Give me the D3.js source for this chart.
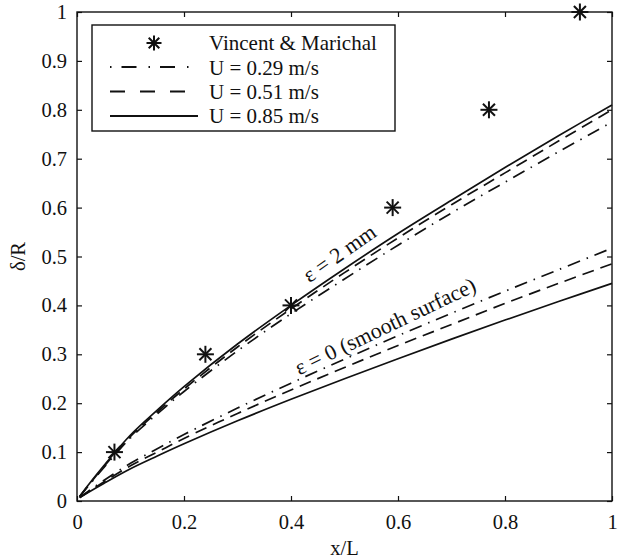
<!DOCTYPE html>
<html>
<head>
<meta charset="utf-8">
<script src="https://cdn.jsdelivr.net/npm/d3@7"></script>
<style>
  body { margin: 0; background: #fff; }
  text { font-family: "Liberation Serif", "Times New Roman", serif; fill: #111; }
</style>
</head>
<body>
<svg id="chart" width="622" height="560"></svg>
<script>
// x/L sample positions
var xs = [0.005, 0.02, 0.05, 0.1, 0.15, 0.2, 0.3, 0.4, 0.5, 0.6, 0.7, 0.8, 0.9, 1.0];
// rough wall, eps = 2 mm
var rough029 = [0.009, 0.029, 0.068, 0.129, 0.178, 0.224, 0.307, 0.383, 0.454, 0.523, 0.589, 0.652, 0.714, 0.775];
var rough051 = [0.009, 0.030, 0.070, 0.132, 0.182, 0.229, 0.315, 0.393, 0.467, 0.538, 0.606, 0.671, 0.736, 0.800];
var rough085 = [0.009, 0.031, 0.072, 0.135, 0.186, 0.234, 0.321, 0.400, 0.475, 0.547, 0.615, 0.682, 0.747, 0.810];
// smooth wall, eps = 0
var smooth029 = [0.007, 0.019, 0.042, 0.077, 0.107, 0.136, 0.190, 0.241, 0.290, 0.338, 0.384, 0.429, 0.473, 0.517];
var smooth051 = [0.007, 0.018, 0.039, 0.072, 0.100, 0.128, 0.179, 0.227, 0.273, 0.318, 0.361, 0.404, 0.445, 0.485];
var smooth085 = [0.007, 0.017, 0.036, 0.066, 0.092, 0.117, 0.164, 0.208, 0.250, 0.291, 0.331, 0.370, 0.408, 0.445];
// Vincent & Marichal measurements
var expX = [0.07, 0.24, 0.40, 0.59, 0.77, 0.94];
var expY = [0.1, 0.3, 0.4, 0.6, 0.8, 1.0];
var tickVals = [0, 0.2, 0.4, 0.6, 0.8, 1];
var yTickVals = [0, 0.1, 0.2, 0.3, 0.4, 0.5, 0.6, 0.7, 0.8, 0.9, 1];
var legendLabels = ["Vincent & Marichal", "U = 0.29 m/s", "U = 0.51 m/s", "U = 0.85 m/s"];

var svg, margin, w, h, x, y, g, fmt, line, dashes, series, star, leg, i;
svg = d3.select('#chart');
margin = {left: 77, top: 12, right: 10, bottom: 59};
w = 622 - margin.left - margin.right;
h = 560 - margin.top - margin.bottom;
x = d3.scaleLinear().domain([0, 1]).range([0, w]);
y = d3.scaleLinear().domain([0, 1]).range([h, 0]);
g = svg.append('g').attr('transform', 'translate(' + margin.left + ',' + margin.top + ')');
fmt = d3.format('~g');

function styleAxis(sel, noLabels){
  sel.select('.domain').remove();
  sel.selectAll('line').attr('stroke', '#111').attr('stroke-width', 1.2);
  sel.selectAll('text').style('font-family', '"Liberation Serif", serif').style('font-size', '20.5px').attr('fill', '#111');
  if (noLabels) sel.selectAll('text').remove();
}

g.append('g').attr('transform', 'translate(0,' + h + ')')
  .call(d3.axisBottom(x).tickValues(tickVals).tickFormat(fmt).tickSize(-5).tickPadding(13))
  .call(styleAxis);
g.append('g')
  .call(d3.axisTop(x).tickValues(tickVals).tickSize(-5))
  .call(styleAxis, true);
g.append('g')
  .call(d3.axisLeft(y).tickValues(yTickVals).tickFormat(fmt).tickSize(-5).tickPadding(10))
  .call(styleAxis);
g.append('g').attr('transform', 'translate(' + w + ',0)')
  .call(d3.axisRight(y).tickValues(yTickVals).tickSize(-5))
  .call(styleAxis, true);

g.append('rect').attr('x', 0).attr('y', 0).attr('width', w).attr('height', h)
  .attr('fill', 'none').attr('stroke', '#111').attr('stroke-width', 1.4);

line = d3.line().curve(d3.curveCatmullRom.alpha(0.5))
  .x(function(d){ return x(d[0]); })
  .y(function(d){ return y(d[1]); });

dashes = {dashdot: '13,7,1.5,7', dashed: '12,7', solid: null};
series = [
  {vals: rough029, style: 'dashdot'}, {vals: rough051, style: 'dashed'}, {vals: rough085, style: 'solid'},
  {vals: smooth029, style: 'dashdot'}, {vals: smooth051, style: 'dashed'}, {vals: smooth085, style: 'solid'}
];

g.selectAll('path.curve').data(series).enter().append('path')
  .attr('class', 'curve')
  .attr('d', function(s){ return line(xs.map(function(v, i){ return [v, s.vals[i]]; })); })
  .attr('fill', 'none').attr('stroke', '#111').attr('stroke-width', 1.7)
  .attr('stroke-dasharray', function(s){ return dashes[s.style]; });

star = function(sel, r){
  [0, 45, 90, 135].forEach(function(a){
    var rad = a * Math.PI / 180;
    sel.append('line')
      .attr('x1', -r * Math.cos(rad)).attr('y1', -r * Math.sin(rad))
      .attr('x2', r * Math.cos(rad)).attr('y2', r * Math.sin(rad))
      .attr('stroke', '#111').attr('stroke-width', 2);
  });
};

g.selectAll('g.star').data(expX).enter().append('g').attr('class', 'star')
  .attr('transform', function(d, i){ return 'translate(' + x(d) + ',' + y(expY[i]) + ')'; })
  .each(function(){ star(d3.select(this), 8.5); });

// annotations along the curves
g.append('text').attr('transform', 'translate(' + x(0.49) + ',' + y(0.507) + ') rotate(-35)')
  .attr('text-anchor', 'middle').attr('dy', '0.35em').style('font-size', '22px').text('ε = 2 mm');
g.append('text').attr('transform', 'translate(' + x(0.576) + ',' + y(0.358) + ') rotate(-25.5)')
  .attr('text-anchor', 'middle').attr('dy', '0.35em').style('font-size', '22px').text('ε = 0 (smooth surface)');

// axis titles
svg.append('text').attr('x', margin.left + w / 2).attr('y', 555).attr('text-anchor', 'middle')
  .style('font-size', '20.5px').text('x/L');
svg.append('text').attr('transform', 'translate(25,' + (margin.top + h / 2) + ') rotate(-90)')
  .attr('text-anchor', 'middle').style('font-size', '20.5px').text('δ/R');

// legend
leg = svg.append('g');
leg.append('rect').attr('x', 92).attr('y', 25).attr('width', 303).attr('height', 106)
  .attr('fill', '#fff').attr('stroke', '#111').attr('stroke-width', 1.4);
star(leg.append('g').attr('transform', 'translate(154,43)'), 7.5);
['dashdot', 'dashed', 'solid'].forEach(function(s, k){
  var yy = 67 + k * 24.5;
  leg.append('line').attr('x1', 110).attr('x2', 198).attr('y1', yy).attr('y2', yy)
    .attr('stroke', '#111').attr('stroke-width', 2)
    .attr('stroke-dasharray', s === 'dashdot' ? '1.5,10,15,12' : s === 'dashed' ? '15,15' : null);
});
for (i = 0; i < legendLabels.length; i++) {
  leg.append('text').attr('x', 209).attr('y', 43 + i * 24.3).attr('dy', '0.35em')
    .style('font-size', '21px').text(legendLabels[i]);
}
</script>
</body>
</html>
